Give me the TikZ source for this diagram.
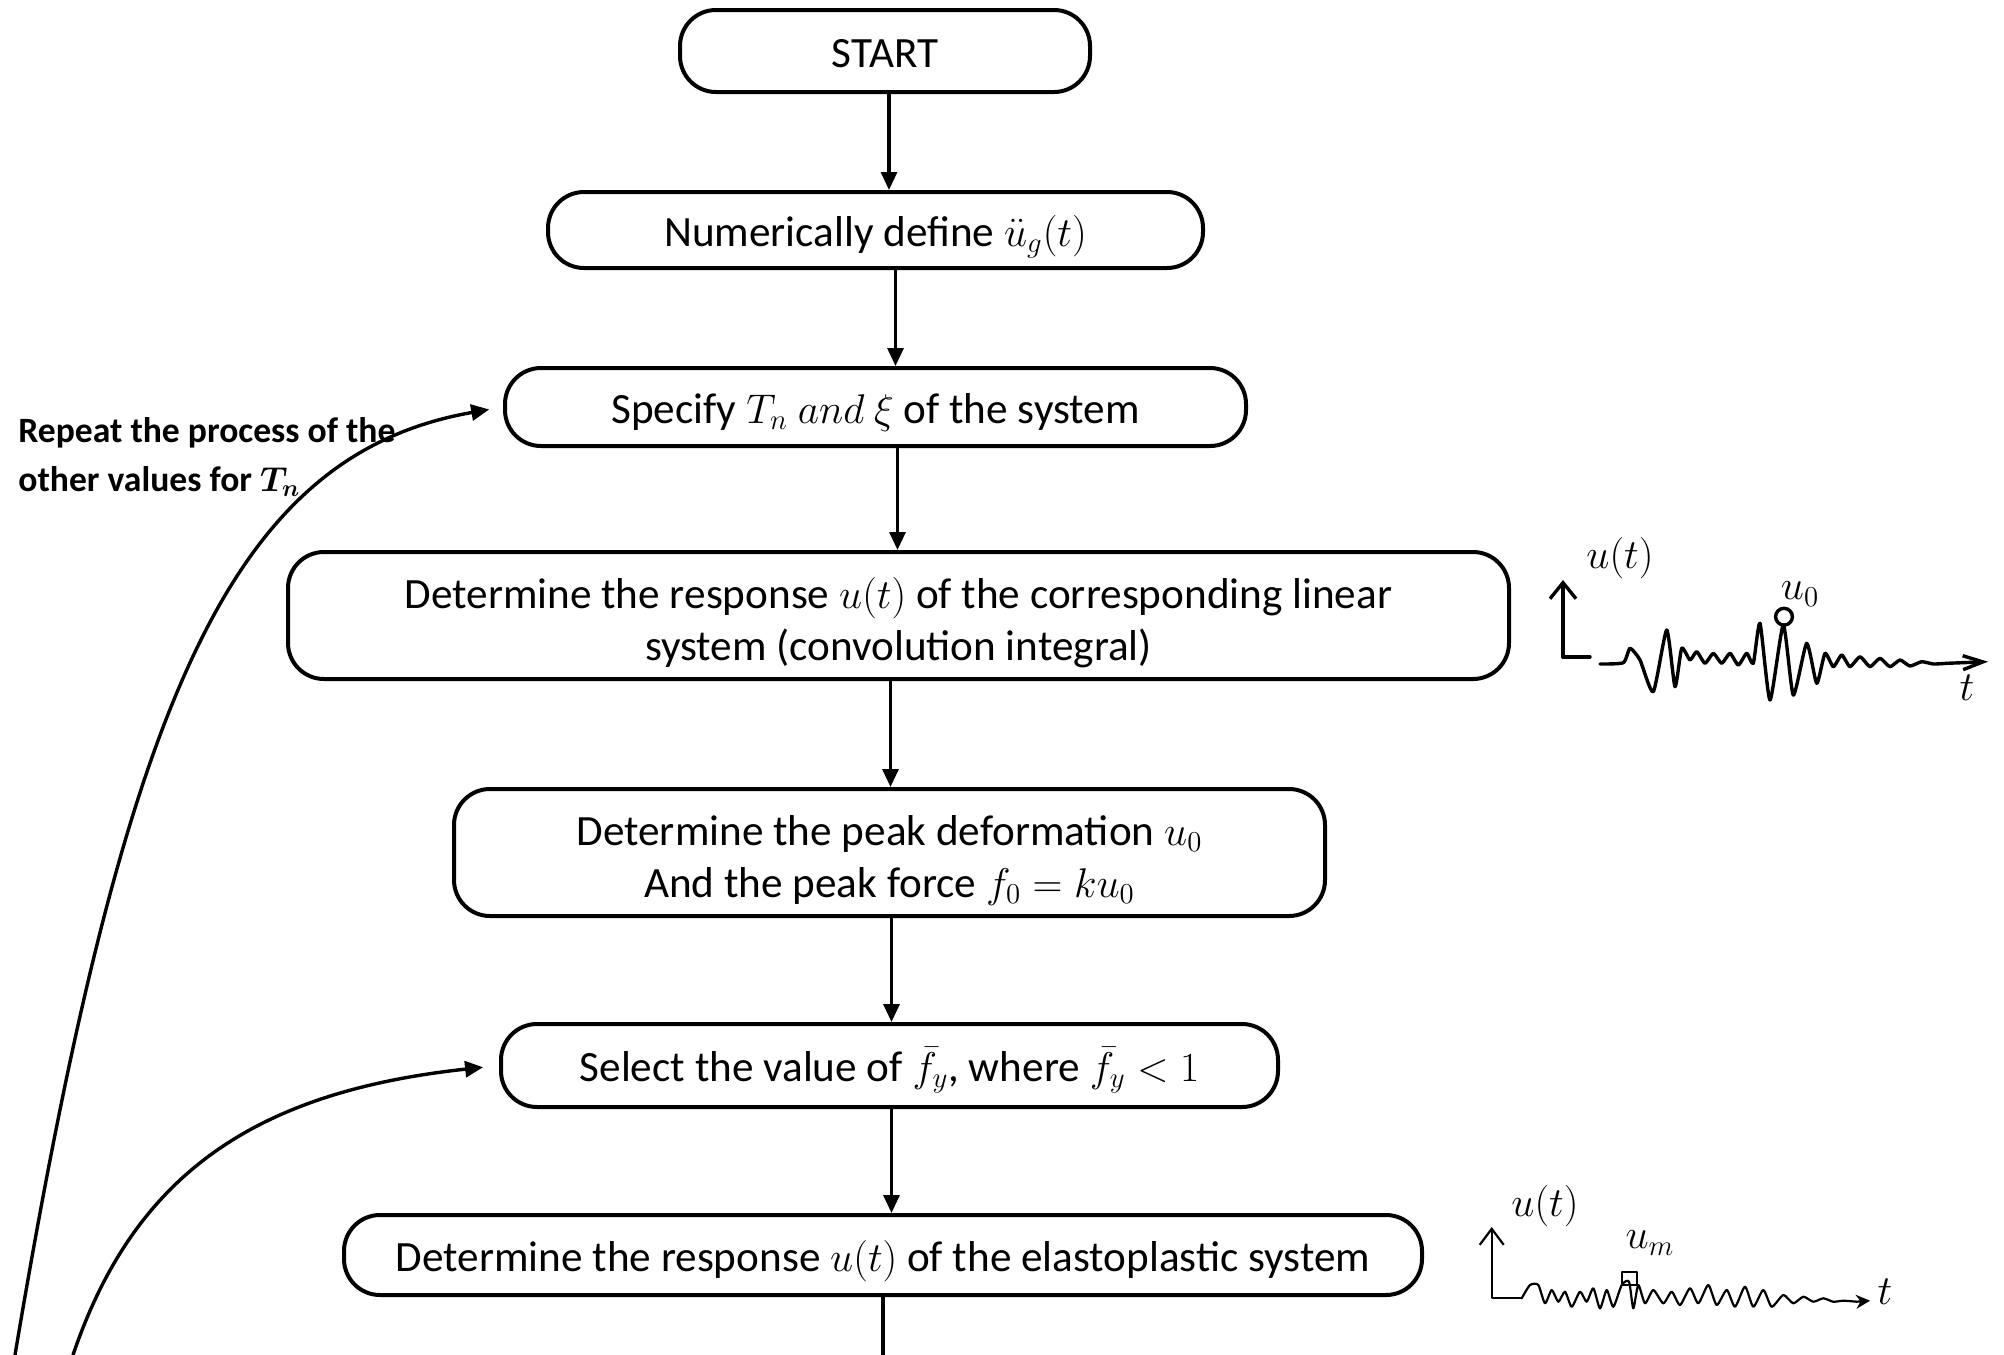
\documentclass[tikz,border=0pt]{standalone}
\usepackage{amsmath}
\usepackage{fontspec}
\setmainfont{Carlito}
\usetikzlibrary{arrows.meta,calc}

\tikzset{
  flowbox/.style={draw, line width=2pt, rounded corners=18pt, align=center,
    inner sep=0pt, font=\fontsize{21.6}{26}\selectfont,
    text height=21.4pt, text depth=5.4pt},
  twolines/.style={text height=50.4pt, text depth=5.4pt},
  flowarrow/.style={line width=1.6pt, -{Triangle[width=8pt,length=9pt]}},
  flowline/.style={line width=1.6pt},
  looparrow/.style={line width=1.7pt, -{Triangle[width=8pt,length=9pt]}},
  sketch/.style={line width=1.7pt, line cap=round, line join=round},
  thinsketch/.style={line width=1.1pt, line cap=round, line join=round},
  hand/.style={inner sep=0pt, font=\fontsize{20}{20}\selectfont},
  note/.style={anchor=west, align=left, inner sep=0pt,
    font=\bfseries\fontsize{17.8}{24.5}\selectfont}
}

\begin{document}
\begin{tikzpicture}[x=0.5pt,y=-0.5pt]
\fill[white] (0,0) rectangle (2004,1355);
\useasboundingbox (0,0) rectangle (2004,1355);

% flowchart boxes
\node[flowbox, minimum width=205pt, minimum height=41pt] (start) at (885,51) {START};
\node[flowbox, minimum width=327.5pt, minimum height=38pt] (num) at (875.5,230)
  {Numerically define $\ddot{u}_g(t)$};
\node[flowbox, minimum width=370.5pt, minimum height=39pt] (spec) at (875.5,407)
  {Specify $T_n\ and\ \xi$ of the system};
\node[flowbox, twolines, minimum width=610.5pt, minimum height=63.5pt] (lin) at (898.5,615.5)
  {Determine the response $u(t)$ of the corresponding linear\\system (convolution integral)};
\node[flowbox, twolines, minimum width=435.5pt, minimum height=63.5pt] (peak) at (889.5,852.5)
  {Determine the peak deformation $u_0$\\And the peak force $f_0 = ku_0$};
\node[flowbox, minimum width=388.5pt, minimum height=41.5pt] (sel) at (889.5,1065.5)
  {Select the value of $\bar{f}_y$, where $\bar{f}_y < 1$};
\node[flowbox, minimum width=539pt, minimum height=40pt] (elast) at (883,1255)
  {Determine the response $u(t)$ of the elastoplastic system};

% main flow
\draw[flowarrow] ([xshift=2pt]start.south) -- ([xshift=2pt]start.south |- num.north);
\draw[flowarrow] ([xshift=10pt]num.south) -- ([xshift=10pt]num.south |- spec.north);
\draw[flowarrow] ([xshift=11pt]spec.south) -- ([xshift=11pt]spec.south |- lin.north);
\draw[flowarrow] ([xshift=-4pt]lin.south) -- ([xshift=-4pt]lin.south |- peak.north);
\draw[flowarrow] ([xshift=1pt]peak.south) -- ([xshift=1pt]peak.south |- sel.north);
\draw[flowarrow] ([xshift=1pt]sel.south) -- ([xshift=1pt]sel.south |- elast.north);
\coordinate (bot) at (882,1355);
\draw[flowline] (elast.south) -- (elast.south |- bot);

% feedback loops
\coordinate (loopA) at (15,1355);
\coordinate (loopB) at (73,1355);
\draw[looparrow, shorten >=7pt] (loopA) .. controls (125,700) and (230,455) .. (spec.west);
\draw[looparrow, shorten >=8pt] (loopB) .. controls (134,1175) and (254,1092) .. (sel.west);

\node[note] (repeat) at (18,457) {Repeat the process of the\\other values for $\boldsymbol{T_n}$};

% sketch of the linear response
\draw[sketch, -{Straight Barb[length=8pt,width=13pt]}] (1590,657) -- (1563,657) -- (1563,580);
\draw[sketch] plot[smooth, tension=0.35] coordinates {
  (1600,664) (1623.3,662.7) (1630,648.3) (1640,660) (1653.3,691.7) (1666.7,630)
  (1675,686.7) (1681.7,648.3) (1690,660) (1696.7,651.7) (1705,663.3) (1713.3,653.3)
  (1721.7,663.3) (1730,653.3) (1738.3,665) (1746.7,653.3) (1753.3,663.3) (1760,623.3)
  (1770,700) (1783.3,625) (1793.3,695) (1806.7,643.3) (1816.7,683.3) (1825,653.3)
  (1833.3,666.7) (1841.7,655) (1850,666.7) (1860,656.7) (1870,666.7) (1880,658.3)
  (1890,666.7) (1900,660) (1910,666) (1921.7,661.7) (1933.3,664) (1946.7,663.3)};
\draw[sketch, -{Straight Barb[length=10pt,width=7pt]}] (1946.7,663.3) -- (1988,661.7);
\draw[sketch] (1784,616.7) circle[radius=4.2pt];
\node[hand] (ut1) at (1620,558) {$u(t)$};
\node[hand] (u0) at (1800,594) {$u_0$};
\node[hand] (t1) at (1967,688) {$t$};

% sketch of the elastoplastic response
\draw[thinsketch, -{Straight Barb[length=8pt,width=12pt]}] (1521.7,1298.3) -- (1491.7,1298.3) -- (1491.7,1227);
\draw[thinsketch] plot[smooth, tension=0.4] coordinates {
  (1521.7,1298.3) (1530,1285) (1538.3,1285) (1545,1303.3) (1551.7,1290) (1558.3,1301.7)
  (1565,1291.7) (1571.7,1306.7) (1580,1291.7) (1586.7,1301.7) (1593.3,1288.3)
  (1600,1308.3) (1606.7,1290) (1613.3,1306.7) (1621.7,1285) (1629,1281.7)
  (1633.3,1308.3) (1638.3,1285) (1645,1303.3) (1653.3,1290) (1663.3,1303.3)
  (1671.7,1291.7) (1680,1305) (1690,1288.3) (1698.3,1303.3) (1708.3,1285)
  (1716.7,1305) (1726.7,1290) (1735,1306.7) (1745,1286.7) (1753.3,1306.7)
  (1763.3,1290) (1771.7,1306.7) (1783.3,1295) (1793.3,1303.3) (1803.3,1296.7)
  (1813.3,1301.7) (1823.3,1298.3) (1833.3,1301.7) (1843.3,1300.7) (1856.7,1301.7)};
\draw[thinsketch, -{Stealth[length=7pt,width=7pt]}] (1856.7,1301.7) -- (1870,1300.7);
\draw[thinsketch] (1621.7,1271.7) rectangle (1636.7,1285);
\node[hand] (ut2) at (1545,1206) {$u(t)$};
\node[hand] (um) at (1650,1243) {$u_m$};
\node[hand] (t2) at (1885,1292) {$t$};
\end{tikzpicture}
\end{document}
